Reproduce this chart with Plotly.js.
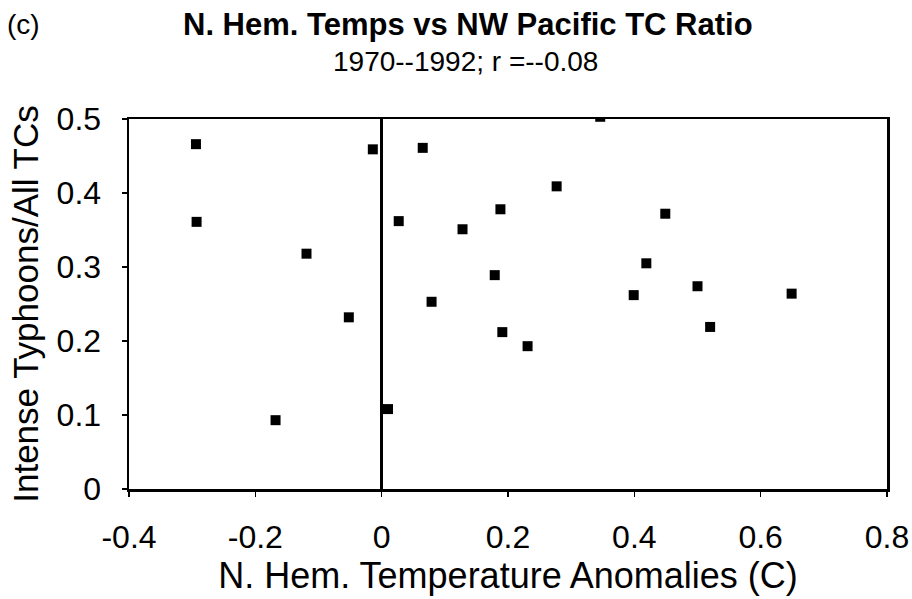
<!DOCTYPE html>
<html>
<head>
<meta charset="utf-8">
<script src="https://cdn.plot.ly/plotly-3.0.1.min.js"></script>
<style>html,body{margin:0;padding:0;background:#fff}#chart{width:912px;height:599px}</style>
</head>
<body>
<div id="chart"></div>
<script>
// N. Hem. temperature anomalies (C), 1970-1992
const tempAnom = [-0.294, -0.293, -0.119, -0.052, -0.168, -0.014, 0.065, 0.027, 0.079, 0.010,
                  0.128, 0.188, 0.179, 0.191, 0.231, 0.277, 0.346, 0.449, 0.419, 0.399,
                  0.500, 0.520, 0.649];
// Intense typhoons / all TCs
const tcRatio = [0.466, 0.361, 0.318, 0.232, 0.093, 0.459, 0.461, 0.362, 0.253, 0.108,
                 0.351, 0.378, 0.289, 0.212, 0.193, 0.409, 0.503, 0.372, 0.305, 0.262,
                 0.274, 0.219, 0.264];
const xTicks = [-0.4, -0.2, 0, 0.2, 0.4, 0.6, 0.8];
const xTickText = ['-0.4', '-0.2', '0', '0.2', '0.4', '0.6', '0.8'];
const yTicks = [0, 0.1, 0.2, 0.3, 0.4, 0.5];
const yTickText = ['0', '0.1', '0.2', '0.3', '0.4', '0.5'];

const font = 'Liberation Sans, Arial, Helvetica, sans-serif';

const trace = {
  x: tempAnom, y: tcRatio, type: 'scatter', mode: 'markers',
  marker: {symbol: 'square', size: 10, color: '#000'},
  hoverinfo: 'x+y'
};

const layout = {
  width: 912, height: 599,
  margin: {l: 129, r: 25, t: 119, b: 110},
  paper_bgcolor: '#fff', plot_bgcolor: '#fff',
  showlegend: false,
  font: {family: font, color: '#000'},
  xaxis: {
    range: [-0.4, 0.8], tickvals: xTicks, ticktext: xTickText,
    showgrid: false, zeroline: true, zerolinecolor: '#000', zerolinewidth: 2.5,
    showline: true, linecolor: '#000', linewidth: 2.5, mirror: true,
    ticks: 'outside', ticklen: 5, tickwidth: 1.5, tickcolor: '#000',
    ticklabelstandoff: 13,
    tickfont: {size: 32, family: font, color: '#000'},
    title: {text: 'N. Hem. Temperature Anomalies (C)', font: {size: 36, family: font, color: '#000'}, standoff: 5}
  },
  yaxis: {
    range: [0, 0.5], tickvals: yTicks, ticktext: yTickText,
    showgrid: false, zeroline: false,
    showline: true, linecolor: '#000', linewidth: 2.5, mirror: true,
    ticks: 'outside', ticklen: 5, tickwidth: 1.5, tickcolor: '#000',
    ticklabelstandoff: 14,
    tickfont: {size: 32, family: font, color: '#000'},
    title: {text: 'Intense Typhoons/All TCs', font: {size: 35, family: font, color: '#000'}, standoff: 8}
  },
  annotations: [
    {text: '<b>N. Hem. Temps vs NW Pacific TC Ratio</b>', xref: 'paper', yref: 'paper',
     x: (468 - 129) / 758, y: 1, yshift: 95, xanchor: 'center', yanchor: 'middle',
     showarrow: false, font: {size: 31, family: font, color: '#000'}},
    {text: '1970--1992; r =--0.08', xref: 'paper', yref: 'paper',
     x: (465 - 129) / 758, y: 1, yshift: 58, xanchor: 'center', yanchor: 'middle',
     showarrow: false, font: {size: 28, family: font, color: '#000'}},
    {text: '(c)', xref: 'paper', yref: 'paper',
     x: (23 - 129) / 758, y: 1, yshift: 95, xanchor: 'center', yanchor: 'middle',
     showarrow: false, font: {size: 28, family: font, color: '#000'}}
  ]
};

Plotly.newPlot('chart', [trace], layout, {displayModeBar: false, staticPlot: true});
</script>
</body>
</html>
